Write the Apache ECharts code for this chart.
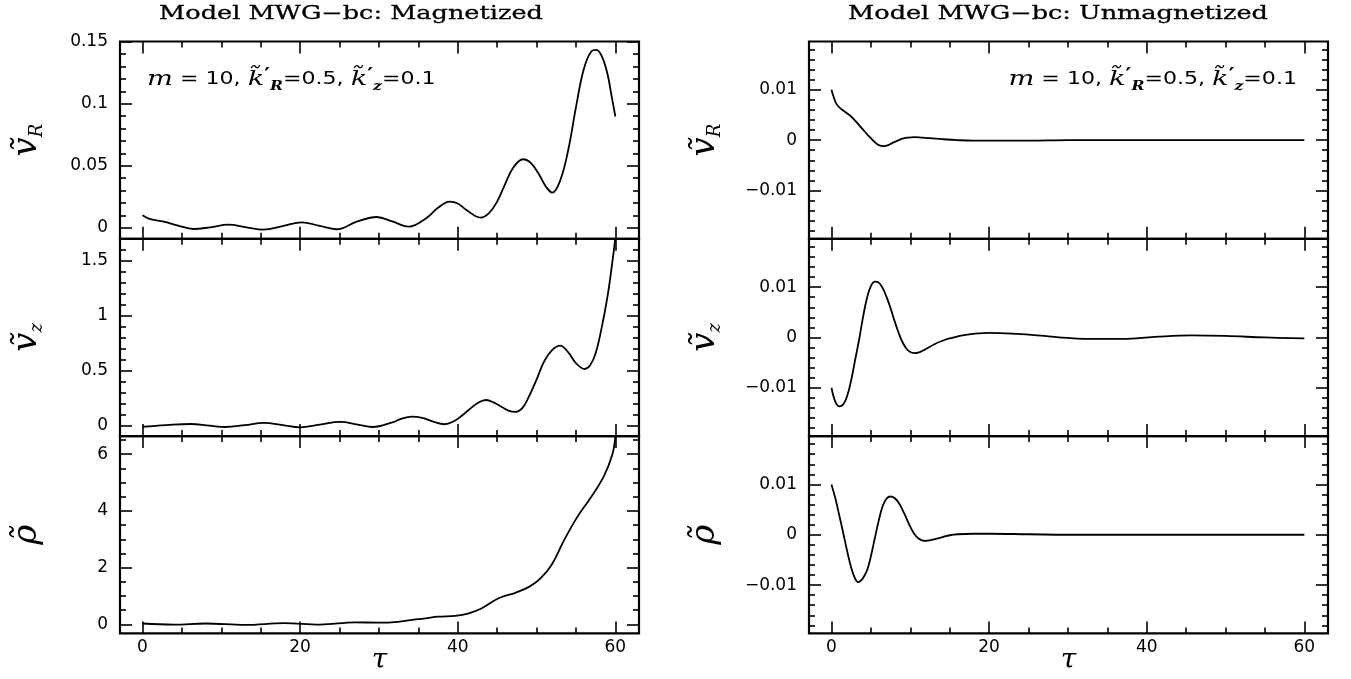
<!DOCTYPE html>
<html><head><meta charset="utf-8">
<script src="https://cdn.jsdelivr.net/npm/echarts@6/dist/echarts.min.js"></script>
<style>html,body{margin:0;padding:0;background:#fff}#c{width:1351px;height:679px}</style>
</head><body><div id="c"></div>
<script>
// ---------------- data ----------------
const titles = ['Model MWG\u2212bc: Magnetized', 'Model MWG\u2212bc: Unmagnetized'];

// Magnetized, v_R
const tauVRmag = [0,1.0,2.7,4.4,6.5,8.6,10.9,13.2,15.3,17.9,20.2,22.5,24.6,27.2,29.7,31.8,33.8,36.0,37.5,39.0,40.0,41.1,42.9,44.0,45.0,46.0,47.0,48.3,49.3,50.3,51.2,52.0,53.0,54.0,55.0,56.0,57.0,57.6,58.3,59.0,59.5,60];
const valVRmag = [0.0100,0.0068,0.0048,0.0019,-0.0011,0.0003,0.0024,0.0003,-0.0016,0.0014,0.0043,0.0014,-0.0013,0.0048,0.0086,0.0048,0.0008,0.0076,0.0160,0.0210,0.0195,0.0143,0.0081,0.0120,0.0210,0.0350,0.0480,0.0552,0.0520,0.0430,0.0330,0.0283,0.0380,0.0620,0.0970,0.1280,0.1425,0.1435,0.1380,0.1240,0.1070,0.0897];
// Magnetized, v_z
const tauVZmag = [0,3,6.1,8.5,10.5,13,15.4,17.8,20,22.5,25.1,27.3,29.2,31.7,32.9,34.2,35.5,36.9,38.3,39.5,40.5,41.5,42.5,43.6,44.6,45.6,46.5,47.3,48.2,49.0,50.0,51.0,52.0,53.0,54.0,55.0,56.1,56.8,57.5,58.2,59.0,59.6,60];
const valVZmag = [-0.01,0.005,0.015,0.0,-0.012,0.005,0.025,0.005,-0.015,0.01,0.034,0.01,-0.012,0.03,0.065,0.082,0.07,0.036,0.013,0.04,0.09,0.15,0.205,0.234,0.21,0.17,0.135,0.125,0.16,0.26,0.42,0.59,0.69,0.729,0.67,0.57,0.516,0.55,0.66,0.87,1.175,1.48,1.71];
// Magnetized, rho
const tauRHmag = [0,4,8,13,18,22.5,27,30,32.4,34,35.9,37.5,39.7,41.4,43.0,45.2,47.4,49.1,50.5,51.9,53.5,55.2,56.8,58.5,59.6,60];
const valRHmag = [0.03,-0.01,0.03,-0.02,0.04,-0.01,0.07,0.06,0.09,0.15,0.21,0.27,0.30,0.39,0.56,0.92,1.12,1.33,1.62,2.09,2.97,3.80,4.44,5.20,5.97,6.62];
// Unmagnetized, v_R
const tauVRun = [0,0.3,0.6,1,1.5,2,2.5,3,3.5,4,4.5,5,5.5,6,6.6,7.2,7.8,8.4,9,9.7,10.5,11.5,12.5,14,16,18,20,25,30,40,50,60];
const valVRun = [0.0100,0.0085,0.0073,0.0065,0.0059,0.0053,0.0047,0.0039,0.0030,0.0021,0.0012,0.0004,-0.0004,-0.0010,-0.0012,-0.0010,-0.0005,-0.0001,0.0003,0.0005,0.0006,0.0005,0.0004,0.0002,0.0000,-0.0001,-0.0001,-0.0001,0,0,0,0];
// Unmagnetized, v_z
const tauVZun = [0,0.5,1,1.5,2,2.5,3,3.5,4,4.5,5,5.5,6,6.5,7,7.5,8,8.5,9,9.5,10,10.5,11,11.5,12,13,14,15,17,20,23.5,27,30,33.3,37,41,45.7,50,55,60];
const valVZun = [-0.0100,-0.0128,-0.0137,-0.0133,-0.0116,-0.0085,-0.0045,-0.0005,0.0040,0.0078,0.0102,0.0111,0.0109,0.0098,0.0080,0.0058,0.0033,0.0010,-0.0009,-0.0022,-0.0029,-0.0031,-0.0030,-0.0027,-0.0023,-0.0014,-0.0007,-0.0002,0.0005,0.0009,0.0007,0.0003,-0.0001,-0.0003,-0.0003,0.0001,0.0004,0.0003,0.0000,-0.0002];
// Unmagnetized, rho
const tauRHun = [0,0.5,1,1.5,2,2.5,3,3.4,3.8,4.2,4.6,5,5.5,6,6.5,7,7.5,8,8.5,9,9.5,10,10.5,11,11.5,12,12.5,13,14,15,16,18,20,25,30,40,50,60];
const valRHun = [0.0100,0.0072,0.0038,0.0003,-0.0033,-0.0065,-0.0087,-0.0094,-0.0090,-0.0081,-0.0067,-0.0043,-0.0007,0.0028,0.0057,0.0072,0.0076,0.0073,0.0064,0.0050,0.0033,0.0016,0.0002,-0.0007,-0.0011,-0.0012,-0.0011,-0.0009,-0.0005,-0.0001,0.0001,0.0002,0.0002,0.0001,0,0,0,0];

// ticks and tick labels
const xMajor = [0,20,40,60];
const xMajorLabels = ['0','20','40','60'];
const xMinor = [5,10,15,25,30,35,45,50,55];

const yMajVR = [0,0.05,0.1,0.15];
const yMajVRLabels = ['0','0.05','0.1','0.15'];
const yMinVR = [0.01,0.02,0.03,0.04,0.06,0.07,0.08,0.09,0.11,0.12,0.13,0.14];

const yMajVZ = [0,0.5,1,1.5];
const yMajVZLabels = ['0','0.5','1','1.5'];
const yMinVZ = [0.1,0.2,0.3,0.4,0.6,0.7,0.8,0.9,1.1,1.2,1.3,1.4,1.6];

const yMajRH = [0,2,4,6];
const yMajRHLabels = ['0','2','4','6'];
const yMinRH = [0.5,1,1.5,2.5,3,3.5,4.5,5,5.5,6.5];

const yMajUn = [-0.01,0,0.01];
const yMajUnLabels = ['\u22120.01','0','0.01'];
const yMinUn = [-0.018,-0.016,-0.014,-0.012,-0.008,-0.006,-0.004,-0.002,0.002,0.004,0.006,0.008,0.012,0.014,0.016,0.018];

// axis ranges
const xRange = [-2.85, 63];
const yRangeVRmag = [-0.009, 0.1502];
const yRangeVZmag = [-0.095, 1.702];
const yRangeRHmag = [-0.32, 6.64];
const yRangeUn = [-0.0196, 0.0196];

// ---------------- layout ----------------
const colLeft = [120, 809];
const colWidth = 519;
const rowTop = [41.5, 238.8, 436.1];
const rowH = 197.3;

const TXT = '#000';
const tickFont = {fontFamily: 'DejaVu Sans', fontSize: 17, color: TXT};

function zip(a, b) { return a.map((t, i) => [t, b[i]]); }
function labelFor(vals, labs) {
  return function (v) {
    for (let i = 0; i < vals.length; i++) if (Math.abs(vals[i] - v) < 1e-9) return labs[i];
    return '';
  };
}

const nameRich = {
  v: {fontFamily: 'DejaVu Serif', fontStyle: 'italic', fontSize: 34, lineHeight: 38, color: TXT},
  s: {fontFamily: 'DejaVu Serif', fontStyle: 'italic', fontSize: 18, lineHeight: 20, verticalAlign: 'bottom', color: TXT}
};

const panels = [
  {col:0,row:0,tau:tauVRmag,val:valVRmag,yr:yRangeVRmag,maj:yMajVR,labs:yMajVRLabels,min:yMinVR,name:'{v|\u1E7D}{s|R}'},
  {col:0,row:1,tau:tauVZmag,val:valVZmag,yr:yRangeVZmag,maj:yMajVZ,labs:yMajVZLabels,min:yMinVZ,name:'{v|\u1E7D}{s|z}'},
  {col:0,row:2,tau:tauRHmag,val:valRHmag,yr:yRangeRHmag,maj:yMajRH,labs:yMajRHLabels,min:yMinRH,name:'{v|\u03C1\u0303}'},
  {col:1,row:0,tau:tauVRun,val:valVRun,yr:yRangeUn,maj:yMajUn,labs:yMajUnLabels,min:yMinUn,name:'{v|\u1E7D}{s|R}'},
  {col:1,row:1,tau:tauVZun,val:valVZun,yr:yRangeUn,maj:yMajUn,labs:yMajUnLabels,min:yMinUn,name:'{v|\u1E7D}{s|z}'},
  {col:1,row:2,tau:tauRHun,val:valRHun,yr:yRangeUn,maj:yMajUn,labs:yMajUnLabels,min:yMinUn,name:'{v|\u03C1\u0303}'}
];
const nameGaps = [74, 85];

const grid = [], xAxis = [], yAxis = [], series = [];
panels.forEach((p, gi) => {
  grid.push({left: colLeft[p.col], top: rowTop[p.row], width: colWidth, height: rowH,
    show: true, borderColor: '#000', borderWidth: 2.2, backgroundColor: 'transparent',
    containLabel: false, outerBoundsMode: 'none'});
  const bottomRow = p.row === 2;
  const tickLine = {color: '#000', width: 1.6};
  const mkX = (pos, vals, len, lab) => ({
    type: 'value', gridIndex: gi, position: pos, min: xRange[0], max: xRange[1],
    axisLine: {show: false, onZero: false}, splitLine: {show: false},
    axisTick: {show: true, inside: true, length: len, lineStyle: tickLine, customValues: vals},
    axisLabel: lab ? Object.assign({show: true, customValues: xMajor, margin: 6,
        formatter: labelFor(xMajor, xMajorLabels)}, tickFont) : {show: false},
    name: lab ? '\u03C4' : '', nameLocation: 'middle', nameGap: 13, nameMoveOverlap: false,
    nameTextStyle: {fontFamily: 'DejaVu Serif', fontStyle: 'italic', fontSize: 28, color: TXT}
  });
  xAxis.push(mkX('bottom', xMajor, 12, bottomRow));
  xAxis.push(mkX('bottom', xMinor, 6, false));
  xAxis.push(mkX('top', xMajor, 12, false));
  xAxis.push(mkX('top', xMinor, 6, false));
  const mkY = (pos, vals, len, lab) => ({
    type: 'value', gridIndex: gi, position: pos, min: p.yr[0], max: p.yr[1],
    axisLine: {show: false, onZero: false}, splitLine: {show: false},
    axisTick: {show: true, inside: true, length: len, lineStyle: tickLine, customValues: vals},
    axisLabel: lab ? Object.assign({show: true, customValues: p.maj, margin: 12,
        formatter: labelFor(p.maj, p.labs)}, tickFont) : {show: false},
    name: lab ? p.name : '', nameLocation: 'middle', nameRotate: 90, nameGap: nameGaps[p.col],
    nameMoveOverlap: false,
    nameTextStyle: {rich: nameRich}
  });
  yAxis.push(mkY('left', p.maj, 12, true));
  yAxis.push(mkY('left', p.min, 6, false));
  yAxis.push(mkY('right', p.maj, 12, false));
  yAxis.push(mkY('right', p.min, 6, false));
  series.push({type: 'line', xAxisIndex: gi * 4, yAxisIndex: gi * 4,
    data: zip(p.tau, p.val), showSymbol: false, smooth: 0.4, silent: true,
    lineStyle: {color: '#000', width: 1.8}, clip: true});
});

const annRich = {
  it: {fontFamily: 'DejaVu Serif', fontStyle: 'italic', fontSize: 21, lineHeight: 26, color: TXT},
  n: {fontFamily: 'DejaVu Sans', fontSize: 17, lineHeight: 26, color: TXT},
  pr: {fontFamily: 'DejaVu Sans', fontWeight: 'bold', fontSize: 17, lineHeight: 16, verticalAlign: 'top', color: TXT},
  sub: {fontFamily: 'DejaVu Serif', fontStyle: 'italic', fontWeight: 'bold', fontSize: 12, lineHeight: 12, verticalAlign: 'bottom', color: TXT}
};
const annText = '{it|m}{n| = 10, }{it|k\u0303}{pr|\u2032}{sub|R}{n|=0.5, }{it|k\u0303}{pr|\u2032}{sub|z}{n|=0.1}';

const titleStyle = (t) => ({text: t, fontFamily: 'DejaVu Serif', fontSize: 18, fill: TXT,
  stroke: TXT, lineWidth: 0.3, align: 'center', verticalAlign: 'middle'});
const graphic = [
  {type: 'text', x: 351, y: 14, scaleX: 1.42, style: titleStyle(titles[0])},
  {type: 'text', x: 1058, y: 14, scaleX: 1.42, style: titleStyle(titles[1])},
  {type: 'text', x: 147, y: 80, scaleX: 1.3, style: {text: annText, rich: annRich, align: 'left', verticalAlign: 'middle'}},
  {type: 'text', x: 1297, y: 80, scaleX: 1.3, style: {text: annText, rich: annRich, align: 'right', verticalAlign: 'middle'}}
];

const chart = echarts.init(document.getElementById('c'), null, {renderer: 'canvas'});
chart.setOption({animation: false, backgroundColor: '#fff', grid, xAxis, yAxis, series, graphic});
</script></body></html>
